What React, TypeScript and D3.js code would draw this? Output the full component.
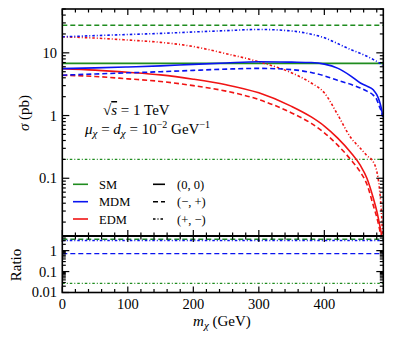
import React, { useEffect, useRef } from "react";
import * as d3 from "d3";

const massGrid = [0, 50, 100, 150, 200, 250, 300, 350, 380, 400, 420, 440, 455, 465, 475, 480, 484, 487, 489];

// cross sections (pb)
const mdmSolid = [5.6, 5.75, 5.95, 6.2, 6.55, 6.9, 7.2, 7.1, 7.0, 6.6, 5.7, 4.3, 3.3, 2.95, 2.55, 2.15, 1.7, 1.3, 1.0];
const mdmDash = [4.4, 4.6, 4.8, 5.0, 5.25, 5.5, 5.65, 5.4, 4.85, 4.3, 3.65, 3.15, 2.75, 2.45, 2.1, 1.8, 1.4, 1.15, 0.95];
const mdmDot = [18, 18.8, 19.6, 20.4, 21.5, 22.6, 23.6, 22.3, 19.8, 17.4, 14.1, 11.3, 9.8, 8.8, 7.8, 7.3, 6.9, 6.6, 6.3];
const edmSolid = [5.6, 5.3, 4.9, 4.45, 3.8, 3.1, 2.3, 1.4, 0.95, 0.68, 0.44, 0.26, 0.16, 0.1, 0.047, 0.03, 0.019, 0.013, 0.009];
const edmDash = [4.4, 4.2, 3.85, 3.5, 3.0, 2.45, 1.8, 1.1, 0.75, 0.53, 0.34, 0.2, 0.125, 0.08, 0.036, 0.024, 0.016, 0.011, 0.008];
const edmDot = [18, 17.2, 16, 14.7, 12.6, 9.7, 7.2, 4.8, 3.3, 2.3, 1.05, 0.45, 0.3, 0.23, 0.18, 0.13, 0.07, 0.03, 0.012];

// SM is flat
const smEnds = [0, 490];
const smSolid = [6.8, 6.8];
const smDash = [27.5, 27.5];
const smDot = [0.2, 0.2];

// ratio panel
const ratioSmDash = [3.5, 3.5];
const ratioMdmDot = [3.05, 3.05];
const ratioMdmDash = [0.72, 0.72];
const ratioSmDot = [0.027, 0.027];

const xTicks = [0, 100, 200, 300, 400];
const mainYTicks = [10, 1, 0.1];
const mainYLabels = ["10", "1", "0.1"];
const ratioYTicks = [1, 0.1, 0.01];
const ratioYLabels = ["1", "0.1", "0.01"];

const GREEN = "#1f8c1f";
const BLUE = "#0a14f0";
const RED = "#f01414";
const DASH = "5,3";
const DOTDASH = "2.5,2,1,2";

const App = () => {
  const svgRef = useRef<SVGSVGElement>(null);

  useEffect(() => {
    const width = 393, height = 344;
    const left = 62.3, right = 383.3, top = 9, mid = 236, bottom = 292.5;
    const font = "Liberation Serif, DejaVu Serif, serif";

    const svg = d3.select(svgRef.current)
      .attr("width", width)
      .attr("height", height);
    svg.selectAll("*").remove();

    const x = d3.scaleLinear().domain([0, 490]).range([left, right]);
    const y = d3.scaleLog().domain([0.012, 50]).range([mid, top]);
    const yr = d3.scaleLog().domain([0.01, 5]).range([bottom, mid]);

    const defs = svg.append("defs");
    defs.append("clipPath").attr("id", "clipMain")
      .append("rect").attr("x", left).attr("y", top).attr("width", right - left).attr("height", mid - top);
    defs.append("clipPath").attr("id", "clipRatio")
      .append("rect").attr("x", left).attr("y", mid).attr("width", right - left).attr("height", bottom - mid);

    const mainG = svg.append("g").attr("clip-path", "url(#clipMain)");
    const ratioG = svg.append("g").attr("clip-path", "url(#clipRatio)");

    const drawLine = (g, xs: number[], ys: number[], scale, color: string, dash: string | null, w = 1.6) => {
      const pts = xs.map((m, i) => [m, ys[i]] as [number, number]);
      const line = d3.line<[number, number]>()
        .x(d => x(d[0]))
        .y(d => scale(d[1]))
        .curve(d3.curveMonotoneX);
      g.append("path")
        .attr("d", line(pts))
        .attr("fill", "none")
        .attr("stroke", color)
        .attr("stroke-width", w)
        .attr("stroke-dasharray", dash);
    };

    drawLine(mainG, smEnds, smSolid, y, GREEN, null, 1.8);
    drawLine(mainG, smEnds, smDash, y, GREEN, DASH);
    drawLine(mainG, smEnds, smDot, y, GREEN, DOTDASH, 1.4);
    drawLine(mainG, massGrid, edmDot, y, RED, DOTDASH);
    drawLine(mainG, massGrid, mdmDot, y, BLUE, DOTDASH);
    drawLine(mainG, massGrid, edmDash, y, RED, DASH);
    drawLine(mainG, massGrid, edmSolid, y, RED, null);
    drawLine(mainG, massGrid, mdmDash, y, BLUE, DASH);
    drawLine(mainG, massGrid, mdmSolid, y, BLUE, null);

    drawLine(ratioG, smEnds, ratioSmDash, yr, GREEN, DASH, 1.4);
    drawLine(ratioG, smEnds, ratioMdmDot, yr, BLUE, DOTDASH, 1.4);
    drawLine(ratioG, smEnds, ratioMdmDash, yr, BLUE, DASH, 1.4);
    drawLine(ratioG, smEnds, ratioSmDot, yr, GREEN, DOTDASH, 1.2);

    // ticks
    const tickG = svg.append("g").attr("stroke", "black").attr("stroke-width", 1.2);
    const xMinor = d3.range(0, 490, 20);
    const xTickRow = (yy: number, dir: number) => {
      xMinor.forEach(v => {
        const len = v % 100 === 0 ? 6 : 3.5;
        tickG.append("line")
          .attr("x1", x(v)).attr("x2", x(v))
          .attr("y1", yy).attr("y2", yy + dir * len);
      });
    };
    xTickRow(top, 1);
    xTickRow(mid, -1);
    xTickRow(mid, 1);
    xTickRow(bottom, -1);

    const logTicks = (lo: number, hi: number) => {
      const out: [number, boolean][] = [];
      for (let e = -3; e <= 2; e++) {
        for (let k = 1; k < 10; k++) {
          const v = k * Math.pow(10, e);
          if (v >= lo * 0.999 && v <= hi * 1.001) out.push([v, k === 1]);
        }
      }
      return out;
    };
    const yTickCol = (scale, lo: number, hi: number) => {
      logTicks(lo, hi).forEach(([v, major]) => {
        const len = major ? 7 : 3.5;
        tickG.append("line")
          .attr("x1", left).attr("x2", left + len)
          .attr("y1", scale(v)).attr("y2", scale(v));
        tickG.append("line")
          .attr("x1", right).attr("x2", right - len)
          .attr("y1", scale(v)).attr("y2", scale(v));
      });
    };
    yTickCol(y, 0.012, 50);
    yTickCol(yr, 0.01, 5);

    // frames
    svg.append("rect")
      .attr("x", left).attr("y", top).attr("width", right - left).attr("height", bottom - top)
      .attr("fill", "none").attr("stroke", "black").attr("stroke-width", 1.6);
    svg.append("line")
      .attr("x1", left).attr("x2", right).attr("y1", mid).attr("y2", mid)
      .attr("stroke", "black").attr("stroke-width", 2);

    // tick labels
    const txt = svg.append("g").style("font-family", font).attr("fill", "black");
    xTicks.forEach(v => {
      txt.append("text")
        .attr("x", x(v)).attr("y", 309)
        .attr("text-anchor", "middle")
        .attr("font-size", 14.5)
        .text(String(v));
    });
    mainYTicks.forEach((v, i) => {
      txt.append("text")
        .attr("x", 57).attr("y", y(v) + 5)
        .attr("text-anchor", "end")
        .attr("font-size", 14.5)
        .text(mainYLabels[i]);
    });
    ratioYTicks.forEach((v, i) => {
      txt.append("text")
        .attr("x", 57).attr("y", Math.min(yr(v) + 5, 297))
        .attr("text-anchor", "end")
        .attr("font-size", 14.5)
        .text(ratioYLabels[i]);
    });

    // axis titles
    const xt = txt.append("text")
      .attr("x", 222).attr("y", 326)
      .attr("text-anchor", "middle")
      .attr("font-size", 15);
    xt.append("tspan").attr("font-style", "italic").text("m");
    xt.append("tspan").attr("font-style", "italic").attr("font-size", 11).attr("dy", 3).text("χ");
    xt.append("tspan").attr("dy", -3).text(" (GeV)");

    const yt = txt.append("text")
      .attr("transform", "translate(29,113) rotate(-90)")
      .attr("text-anchor", "middle")
      .attr("font-size", 15);
    yt.append("tspan").attr("font-style", "italic").text("σ");
    yt.append("tspan").text(" (pb)");

    txt.append("text")
      .attr("transform", "translate(21,265) rotate(-90)")
      .attr("text-anchor", "middle")
      .attr("font-size", 15)
      .text("Ratio");

    // annotation
    const a1 = txt.append("text").attr("x", 103).attr("y", 115).attr("font-size", 15);
    a1.append("tspan").text("√");
    a1.append("tspan").attr("font-style", "italic").attr("text-decoration", "overline").text("s");
    a1.append("tspan").text(" = 1 TeV");

    const a2 = txt.append("text").attr("x", 85).attr("y", 134).attr("font-size", 15);
    a2.append("tspan").attr("font-style", "italic").text("μ");
    a2.append("tspan").attr("font-style", "italic").attr("font-size", 11).attr("dy", 3).text("χ");
    a2.append("tspan").attr("dy", -3).text(" = ");
    a2.append("tspan").attr("font-style", "italic").text("d");
    a2.append("tspan").attr("font-style", "italic").attr("font-size", 11).attr("dy", 3).text("χ");
    a2.append("tspan").attr("dy", -3).text(" = 10");
    a2.append("tspan").attr("font-size", 10).attr("dy", -6).text("−2");
    a2.append("tspan").attr("dy", 6).text(" GeV");
    a2.append("tspan").attr("font-size", 10).attr("dy", -6).text("−1");

    // legend
    const legendNames = ["SM", "MDM", "EDM"];
    const legendColors = [GREEN, BLUE, RED];
    const legendStyles = ["(0, 0)", "(−, +)", "(+, −)"];
    const legendDash = [null, DASH, DOTDASH];
    const rowY = [184.3, 201.7, 219];
    legendNames.forEach((n, i) => {
      svg.append("line")
        .attr("x1", 73).attr("x2", 88).attr("y1", rowY[i]).attr("y2", rowY[i])
        .attr("stroke", legendColors[i]).attr("stroke-width", 1.6);
      txt.append("text")
        .attr("x", 99).attr("y", rowY[i] + 4.5)
        .attr("font-size", 12.5)
        .text(n);
      svg.append("line")
        .attr("x1", 153).attr("x2", 165).attr("y1", rowY[i]).attr("y2", rowY[i])
        .attr("stroke", "black").attr("stroke-width", 1.6)
        .attr("stroke-dasharray", legendDash[i]);
      txt.append("text")
        .attr("x", 177).attr("y", rowY[i] + 4.5)
        .attr("font-size", 12.5)
        .text(legendStyles[i]);
    });
  }, []);

  return (
    <svg
      ref={svgRef}
      style={{ position: "absolute", left: 0, top: 0, background: "#fff" }}
    />
  );
};

export default App;
